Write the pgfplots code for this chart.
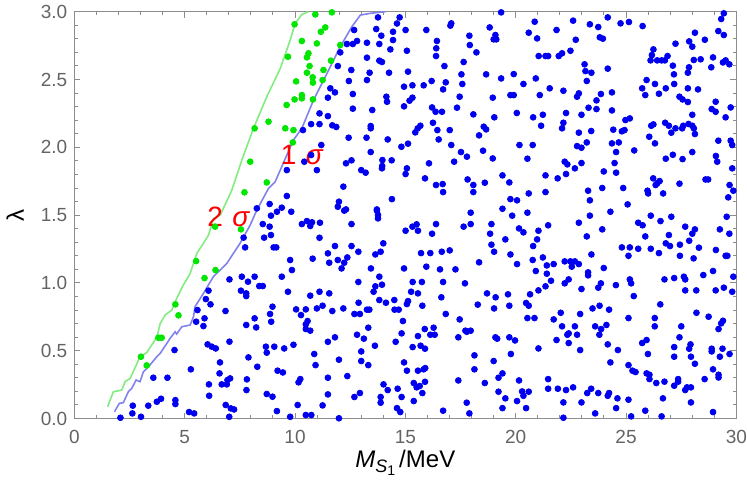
\documentclass[border=0pt]{standalone}
\usepackage{fontspec}
\setmainfont{Liberation Sans}
\usepackage{pgfplots}
\pgfplotsset{compat=1.18}
\usetikzlibrary{calc}
\definecolor{ptblue}{RGB}{0,0,238}
\definecolor{ptgreen}{RGB}{0,230,0}
\definecolor{lngreen}{RGB}{130,236,130}
\definecolor{lnblue}{RGB}{130,130,236}
\definecolor{framegray}{RGB}{140,140,140}
\definecolor{labgray}{RGB}{100,100,100}

% sampled points, 1 sigma region
\pgfplotstableread{
x y
9.63 1.832
9.63 1.641
8.27 1.55
8.85 1.582
9.40 1.555
13.76 2.958
14.74 2.958
14.62 2.913
17.08 2.914
17.04 2.897
19.34 2.995
18.82 2.884
13.68 2.872
12.68 2.865
15.01 2.865
15.95 2.865
14.44 2.852
13.91 2.823
17.90 2.823
19.08 2.828
19.00 2.796
19.12 2.796
12.35 2.762
12.62 2.762
12.81 2.784
13.26 2.771
13.82 2.762
14.44 2.791
16.43 2.784
17.92 2.754
16.40 2.730
12.05 2.700
14.32 2.722
15.07 2.712
18.22 2.700
16.39 2.673
13.26 2.661
13.82 2.639
13.94 2.629
17.64 2.629
11.94 2.599
16.77 2.599
12.55 2.570
13.38 2.550
14.26 2.550
15.12 2.558
17.54 2.538
18.66 2.538
19.91 2.540
13.26 2.496
12.44 2.489
16.19 2.489
16.83 2.479
17.58 2.467
19.34 2.508
11.60 2.435
11.81 2.405
14.94 2.447
15.32 2.457
15.83 2.457
16.71 2.427
11.49 2.366
12.62 2.393
14.14 2.373
14.17 2.336
15.32 2.366
15.19 2.344
17.46 2.373
18.96 2.366
19.76 2.385
19.91 2.385
12.62 2.285
13.50 2.275
14.94 2.302
16.21 2.294
16.37 2.262
16.66 2.262
17.34 2.292
11.11 2.250
11.49 2.230
18.08 2.243
19.03 2.221
10.73 2.171
11.11 2.171
11.69 2.162
11.87 2.150
13.43 2.157
13.43 2.140
15.68 2.159
15.56 2.140
15.45 2.110
16.25 2.181
16.45 2.127
17.01 2.127
18.55 2.152
18.66 2.132
10.36 2.127
12.43 2.071
13.24 2.071
14.20 2.058
16.51 2.058
18.34 2.088
11.19 2.017
14.82 2.004
15.12 2.027
17.08 2.017
13.43 1.965
17.52 1.965
18.52 1.975
10.73 1.943
10.42 1.894
12.31 1.882
12.56 1.904
13.96 1.906
14.38 1.904
13.95 1.862
13.94 1.845
16.07 1.882
17.21 1.894
17.79 1.931
18.96 1.918
10.99 1.832
13.00 1.832
13.20 1.813
15.07 1.845
15.01 1.803
15.89 1.771
17.82 1.763
19.40 1.793
12.19 1.710
16.39 1.722
16.69 1.729
16.71 1.670
18.08 1.722
18.08 1.670
18.60 1.739
19.71 1.741
14.39 1.618
11.99 1.599
11.94 1.562
12.31 1.542
13.71 1.542
19.76 1.618
19.40 1.547
29.43 2.988
29.31 2.946
20.86 2.926
22.60 2.934
24.17 2.958
23.36 2.907
23.74 2.887
24.75 2.914
25.13 2.924
25.75 2.894
20.59 2.845
21.85 2.865
29.18 2.857
29.43 2.828
28.12 2.845
23.81 2.811
23.95 2.801
20.97 2.803
22.72 2.793
28.57 2.793
27.24 2.764
27.86 2.781
28.00 2.742
22.48 2.712
26.24 2.722
26.17 2.680
21.04 2.673
21.35 2.673
21.47 2.673
21.95 2.673
22.10 2.693
26.88 2.673
26.11 2.641
26.41 2.641
26.61 2.641
26.76 2.641
27.12 2.602
28.07 2.644
28.38 2.649
28.94 2.663
29.39 2.626
29.51 2.641
29.68 2.612
23.12 2.612
28.86 2.590
27.85 2.590
27.80 2.550
23.16 2.562
23.43 2.550
24.17 2.580
27.17 2.538
23.22 2.489
20.91 2.508
25.93 2.496
20.35 2.467
26.31 2.467
21.54 2.435
22.16 2.417
25.73 2.435
26.80 2.435
27.18 2.467
27.80 2.435
28.26 2.427
23.86 2.393
24.36 2.405
22.86 2.398
22.78 2.373
21.09 2.385
25.87 2.385
26.49 2.395
27.42 2.373
27.56 2.353
27.80 2.334
23.66 2.346
23.30 2.292
23.66 2.282
24.36 2.272
29.06 2.336
28.88 2.282
29.06 2.262
29.74 2.294
22.28 2.253
22.98 2.240
21.23 2.240
20.79 2.221
20.05 2.253
28.00 2.240
29.51 2.221
24.97 2.201
25.17 2.213
22.16 2.181
22.10 2.140
21.15 2.159
26.14 2.159
26.24 2.169
26.77 2.181
26.94 2.159
27.24 2.140
27.05 2.108
27.59 2.159
27.54 2.140
27.83 2.172
28.00 2.159
28.07 2.140
28.12 2.098
24.42 2.130
24.81 2.118
24.93 2.127
23.42 2.120
22.86 2.108
26.05 2.078
20.17 2.017
20.77 2.017
22.78 2.009
22.98 1.997
23.22 2.036
24.36 2.029
24.67 2.036
26.31 2.029
29.18 2.049
29.74 2.049
29.81 2.017
24.55 1.965
25.37 1.977
20.53 1.916
29.07 1.936
29.13 1.894
26.80 1.916
27.12 1.945
27.56 1.913
28.00 1.965
22.22 1.894
22.34 1.874
22.98 1.884
24.48 1.884
24.55 1.813
22.68 1.845
22.28 1.803
21.35 1.793
21.90 1.771
23.99 1.822
29.81 1.845
26.23 1.771
26.41 1.734
26.52 1.751
26.34 1.722
27.42 1.732
28.60 1.763
28.72 1.763
29.69 1.722
29.86 1.680
20.59 1.660
21.35 1.670
23.28 1.680
23.92 1.700
24.87 1.700
25.97 1.680
26.00 1.660
26.68 1.660
23.36 1.609
25.07 1.579
29.63 1.631
20.06 1.609
9.18 1.525
9.83 1.525
8.54 1.434
8.85 1.415
8.91 1.496
8.60 1.334
8.91 1.353
7.67 1.334
7.74 1.262
9.03 1.262
9.15 1.262
9.78 1.169
9.86 1.095
7.03 1.026
7.59 1.046
8.17 1.046
7.87 1.009
8.38 0.977
8.54 0.977
9.40 1.046
6.08 0.943
7.55 0.943
7.79 0.923
7.79 0.903
9.68 0.935
5.96 0.881
6.17 0.842
5.58 0.800
6.85 0.793
8.98 0.825
8.87 0.771
10.05 0.805
5.90 0.739
5.52 0.714
8.17 0.739
8.24 0.672
8.92 0.714
7.79 0.690
5.85 0.682
6.04 0.547
6.23 0.530
6.41 0.517
7.03 0.567
4.54 0.505
8.68 0.530
8.72 0.486
9.06 0.530
9.51 0.517
9.93 0.544
7.89 0.451
8.29 0.382
6.60 0.414
6.58 0.333
3.58 0.301
4.22 0.301
5.28 0.363
9.21 0.353
9.45 0.340
6.10 0.252
6.68 0.252
6.91 0.252
6.94 0.284
7.06 0.296
7.82 0.289
7.80 0.210
10.16 0.267
6.11 0.168
8.72 0.181
8.98 0.161
2.65 0.095
3.35 0.095
3.74 0.124
3.93 0.146
4.58 0.136
4.58 0.107
6.86 0.100
7.09 0.075
7.24 0.067
9.18 0.055
10.12 0.100
2.63 0.038
3.02 0.013
2.09 0.006
5.20 0.048
5.43 0.038
7.02 0.013
9.78 0.013
10.31 1.434
10.54 1.456
10.69 1.420
10.77 1.447
11.13 1.444
12.23 1.533
13.71 1.533
13.76 1.501
13.76 1.476
12.56 1.434
11.11 1.333
15.32 1.415
15.51 1.432
15.57 1.385
15.01 1.385
16.39 1.434
16.21 1.363
17.96 1.518
17.96 1.434
17.64 1.415
19.84 1.496
18.90 1.434
18.84 1.363
19.53 1.321
18.90 1.282
19.02 1.230
19.76 1.210
11.81 1.272
11.49 1.218
11.55 1.149
12.56 1.272
12.87 1.230
12.37 1.188
12.23 1.149
12.11 1.107
11.94 1.169
10.80 1.179
13.64 1.210
13.88 1.230
14.00 1.292
13.44 1.107
12.87 1.007
13.82 1.046
13.94 0.987
13.64 0.975
13.56 0.935
14.94 1.107
15.71 1.220
16.13 1.220
16.65 1.230
17.01 1.240
15.95 1.120
16.57 1.100
17.27 1.100
18.34 1.152
15.33 1.007
15.75 1.007
16.71 1.007
17.70 0.997
15.26 0.935
15.57 0.923
16.63 0.894
10.69 0.906
11.11 0.935
11.55 0.923
18.70 0.923
19.09 0.894
19.65 0.916
13.82 0.874
14.12 0.854
14.50 0.874
15.12 0.866
15.07 0.844
15.77 0.832
18.28 0.840
19.71 0.832
19.02 0.812
10.49 0.805
10.99 0.812
11.25 0.832
11.69 0.793
12.19 0.812
12.88 0.854
12.69 0.771
12.94 0.771
13.26 0.803
13.37 0.803
14.51 0.803
14.70 0.803
16.83 0.771
10.27 0.763
10.57 0.719
10.49 0.695
10.49 0.660
10.69 0.648
14.89 0.719
17.46 0.731
13.32 0.670
15.88 0.660
16.28 0.670
16.13 0.618
16.33 0.618
15.57 0.608
14.83 0.628
17.72 0.648
17.78 0.640
17.96 0.648
17.40 0.599
19.08 0.599
19.16 0.589
19.71 0.599
19.97 0.576
11.81 0.599
11.49 0.566
12.81 0.618
13.12 0.589
14.56 0.566
13.62 0.537
15.33 0.527
15.69 0.537
15.89 0.515
13.00 0.495
10.87 0.476
18.13 0.466
19.78 0.476
13.00 0.424
13.32 0.394
14.94 0.414
11.99 0.434
10.93 0.394
19.00 0.424
15.07 0.353
15.57 0.353
15.83 0.363
15.90 0.372
18.13 0.363
12.37 0.313
11.49 0.301
10.24 0.291
19.40 0.333
19.22 0.301
17.40 0.281
18.60 0.262
15.38 0.262
15.51 0.230
15.65 0.240
15.89 0.271
15.77 0.188
14.01 0.252
14.20 0.210
14.65 0.220
11.49 0.178
12.94 0.188
12.69 0.159
13.88 0.159
13.88 0.117
14.83 0.159
15.38 0.129
19.22 0.198
19.53 0.149
17.78 0.117
11.25 0.097
14.62 0.077
14.77 0.048
16.71 0.058
19.40 0.077
17.90 0.038
10.49 0.026
10.74 0.026
11.99 0.002
20.53 1.518
24.29 1.525
23.36 1.496
26.12 1.496
27.05 1.488
29.56 1.488
20.15 1.402
20.35 1.373
21.03 1.385
20.97 1.321
21.47 1.425
22.86 1.444
23.22 1.343
23.92 1.395
25.55 1.444
25.75 1.425
25.87 1.343
26.56 1.456
27.68 1.415
28.12 1.395
28.00 1.363
26.94 1.353
29.25 1.395
29.68 1.363
27.86 1.311
20.79 1.272
26.80 1.292
26.99 1.272
27.44 1.282
28.30 1.260
24.81 1.262
25.17 1.262
25.55 1.252
26.12 1.252
26.49 1.220
29.07 1.243
23.43 1.210
25.11 1.200
27.44 1.200
28.06 1.181
29.51 1.200
29.59 1.200
21.23 1.188
20.77 1.169
20.06 1.139
21.41 1.129
21.41 1.068
21.60 1.016
21.35 0.975
21.72 1.139
22.22 1.159
22.48 1.159
22.68 1.159
22.86 1.139
22.54 1.120
20.91 1.088
23.28 1.078
23.28 1.056
23.99 1.110
22.40 1.026
22.22 0.997
22.98 0.955
23.86 0.997
23.74 0.965
24.54 0.984
25.17 1.026
25.23 0.997
25.35 0.903
26.74 1.026
27.18 1.036
27.62 1.046
27.68 1.026
28.50 1.058
28.94 1.088
29.86 1.046
27.68 0.945
28.18 0.945
29.06 0.945
29.43 0.965
29.81 0.935
21.03 0.945
20.65 0.916
20.47 0.852
20.59 0.832
20.53 0.741
20.85 0.741
21.72 0.731
22.04 0.780
22.92 0.771
23.48 0.812
23.80 0.832
24.23 0.803
26.55 0.842
25.11 0.741
26.30 0.741
26.30 0.680
28.19 0.780
28.74 0.751
29.39 0.721
29.31 0.702
29.19 0.660
22.10 0.680
22.68 0.680
22.40 0.628
22.34 0.618
22.78 0.618
23.60 0.680
23.87 0.660
23.79 0.618
24.11 0.690
27.50 0.680
27.42 0.599
21.85 0.579
22.40 0.557
25.73 0.557
25.93 0.579
21.03 0.517
22.92 0.505
24.17 0.547
24.63 0.505
25.99 0.476
27.18 0.527
27.18 0.456
27.86 0.515
27.92 0.547
27.94 0.456
28.12 0.404
28.88 0.515
28.88 0.495
29.37 0.515
29.25 0.456
29.69 0.476
24.29 0.414
25.11 0.394
25.29 0.353
25.43 0.343
25.93 0.333
26.06 0.323
26.06 0.291
26.37 0.262
26.74 0.272
27.36 0.291
27.36 0.272
27.18 0.242
27.68 0.210
27.76 0.230
27.94 0.230
28.56 0.291
28.94 0.363
29.19 0.323
29.19 0.303
20.15 0.281
20.29 0.200
20.35 0.168
20.59 0.198
20.06 0.129
20.47 0.077
21.47 0.291
21.47 0.220
21.91 0.220
22.28 0.210
22.60 0.230
22.16 0.119
22.98 0.119
23.24 0.188
23.42 0.220
23.74 0.188
24.17 0.168
24.23 0.188
24.61 0.149
24.55 0.077
25.11 0.139
26.67 0.149
27.94 0.119
23.60 0.038
25.87 0.058
28.94 0.048
22.16 0.006
25.23 0.016
26.61 0.016
}\bluepts

% sampled points, 2 sigma region
\pgfplotstableread{
x y
9.98 2.907
9.68 2.668
10.05 2.486
9.98 2.353
9.62 2.312
8.17 2.140
8.80 2.189
9.56 2.140
9.93 2.127
9.90 2.036
7.97 1.894
8.72 1.741
7.71 1.668
10.92 2.980
11.67 2.995
11.37 2.884
11.17 2.852
10.31 2.784
10.99 2.766
10.61 2.693
10.54 2.663
12.05 2.754
11.63 2.639
10.66 2.599
11.29 2.570
10.54 2.550
10.80 2.516
11.25 2.496
10.81 2.477
10.31 2.385
10.31 2.361
10.81 2.353
6.38 1.415
7.55 1.395
5.52 1.161
6.40 1.095
5.90 1.036
4.58 0.842
4.72 0.761
3.81 0.596
3.96 0.596
3.02 0.456
3.28 0.392
}\greenpts

\pgfplotstableread{
x y
1.51 0.087
1.77 0.198
2.15 0.210
2.30 0.272
2.53 0.296
2.98 0.456
3.28 0.486
3.74 0.600
3.89 0.700
4.11 0.763
4.42 0.800
4.64 0.886
4.94 0.985
5.25 1.070
5.55 1.218
5.85 1.292
6.08 1.353
6.31 1.476
6.61 1.500
7.14 1.685
7.59 1.906
8.12 2.140
8.72 2.373
9.33 2.580
9.78 2.790
10.01 2.914
10.31 2.980
10.61 3.000
}\greenline

\pgfplotstableread{
x y
1.82 0.050
2.04 0.112
2.22 0.117
2.45 0.198
2.60 0.222
2.80 0.284
2.98 0.272
3.13 0.345
3.36 0.382
3.74 0.456
3.89 0.480
4.34 0.591
4.57 0.640
4.64 0.623
4.87 0.677
5.25 0.690
5.40 0.751
5.47 0.825
5.85 0.923
6.30 1.046
6.91 1.144
7.51 1.292
7.97 1.427
8.27 1.538
8.80 1.697
9.10 1.746
9.93 2.054
10.31 2.140
10.84 2.349
11.45 2.545
12.05 2.742
12.58 2.890
12.96 2.975
13.41 2.988
14.09 3.000
}\blueline

\begin{document}
\begin{tikzpicture}
\begin{axis}[
  scale only axis, width=331pt, height=203.4pt,
  xmin=0, xmax=30, ymin=0, ymax=3,
  xtick={0,5,...,30}, ytick={0,0.5,...,3},
  minor x tick num=4, minor y tick num=4,
  axis line style={framegray},
  tick style={framegray, line width=0.5pt},
  major tick length=3pt, minor tick length=1.7pt,
  tick label style={font=\fontsize{9.5}{11}\selectfont, text=labgray},
  xticklabel style={yshift=-2.4pt},
  /pgf/number format/assume math mode=true,
  yticklabel style={/pgf/number format/.cd, fixed, fixed zerofill, precision=1},
  xlabel={\textit{M}\raisebox{-0.4ex}{\fontsize{9}{10}\selectfont\textit{S}\raisebox{-0.35ex}{\fontsize{7}{8}\selectfont 1}}\,/MeV},
  ylabel={λ},
  label style={font=\fontsize{12}{14}\selectfont},
  xlabel style={at={(axis description cs:0.5,0)}, anchor=center, yshift=-22pt},
  ylabel style={at={(axis description cs:0,0.5)}, anchor=center, yshift=29.6pt},
]
\coordinate (bl) at (rel axis cs:0,0);
\coordinate (tr) at (rel axis cs:1,1);
\addplot[only marks, mark=*, mark size=1.45pt, color=ptblue] table {\bluepts};
\addplot[only marks, mark=*, mark size=1.45pt, color=ptgreen] table {\greenpts};
\addplot[lngreen, line width=0.8pt, no marks] table {\greenline};
\addplot[lnblue, line width=0.8pt, no marks] table {\blueline};
\node[text=red, font=\fontsize{14}{16}\selectfont] at (axis cs:10.33,1.943) {1\,\,\textit{σ}};
\node[text=red, font=\fontsize{14}{16}\selectfont] at (axis cs:7.0,1.486) {2\,\,\textit{σ}};
\end{axis}
\pgfresetboundingbox
\path[use as bounding box] ($(bl)+(-37.15pt,-39.25pt)$) rectangle ($(tr)+(5.3pt,5.85pt)$);
\end{tikzpicture}
\end{document}
